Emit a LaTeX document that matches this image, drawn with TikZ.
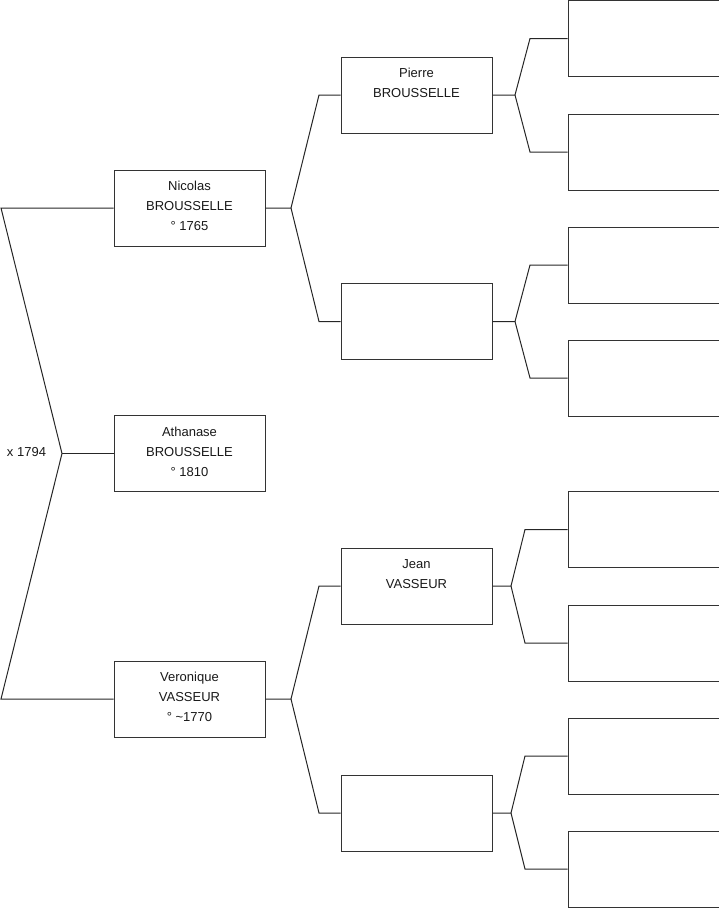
\documentclass[tikz,border=0pt]{standalone}
\usepackage{fontspec}
\setmainfont{Liberation Sans}
\begin{document}
\begin{tikzpicture}[x=1pt,y=-1pt,
  person/.style={draw=black!80,line width=1pt,fill=white,minimum width=151pt,minimum height=76pt,
    inner sep=0pt},
  txt/.style={inner sep=0pt,align=center,font=\fontsize{13}{20}\selectfont,text=black!90},
  link/.style={draw=black!85,line width=1pt}]
\useasboundingbox (0,0) rectangle (719,908);
% column 1
\node[person] (nic) at (189.5,208) {};
\node[person] (ath) at (189.5,453.5) {};
\node[person] (ver) at (189.5,699) {};
\node[txt] (nict) at ([yshift=2pt]nic.center) {Nicolas\\BROUSSELLE\\° 1765};
\node[txt] (atht) at ([yshift=2pt]ath.center) {Athanase\\BROUSSELLE\\° 1810};
\node[txt] (vert) at ([yshift=2pt]ver.center) {Veronique\\VASSEUR\\° \textasciitilde1770};
% column 2
\node[person] (pie) at (416.5,95) {};
\node[person] (b2) at (416.5,321.5) {};
\node[person] (jea) at (416.5,586) {};
\node[person] (b4) at (416.5,813) {};
\node[txt] (piet) at ([yshift=2pt]pie.center) {Pierre\\BROUSSELLE\\\mbox{}};
\node[txt] (jeat) at ([yshift=2pt]jea.center) {Jean\\VASSEUR\\\mbox{}};
% column 3
\node[person] (c1) at (643.5,38.5) {};
\node[person] (c2) at (643.5,152) {};
\node[person] (c3) at (643.5,265) {};
\node[person] (c4) at (643.5,378) {};
\node[person] (c5) at (643.5,529.5) {};
\node[person] (c6) at (643.5,643) {};
\node[person] (c7) at (643.5,756) {};
\node[person] (c8) at (643.5,869) {};
% root fork
\coordinate (rt) at (1,208);
\coordinate (ra) at (62,453.5);
\coordinate (rb) at (1,699);
\draw[link] (nic.west) -- (rt) -- (ra) -- (rb) -- (ver.west);
\draw[link] (ra) -- (ath.west);
\node[font=\fontsize{13}{15}\selectfont,text=black!90] (mar) at (26.5,452) {x 1794};
% column 1 -> column 2
\coordinate (na) at (291,208);
\coordinate (nu) at (319,95);
\coordinate (nd) at (319,321.5);
\draw[link] (nic.east) -- (na) -- (nu) -- (pie.west);
\draw[link] (na) -- (nd) -- (b2.west);
\coordinate (va) at (291,699);
\coordinate (vu) at (319,586);
\coordinate (vd) at (319,813);
\draw[link] (ver.east) -- (va) -- (vu) -- (jea.west);
\draw[link] (va) -- (vd) -- (b4.west);
% column 2 -> column 3
\coordinate (pa) at (515,95);
\coordinate (pu) at (530,38.5);
\coordinate (pd) at (530,152);
\draw[link] (pie.east) -- (pa) -- (pu) -- (c1.west);
\draw[link] (pa) -- (pd) -- (c2.west);
\coordinate (qa) at (515,321.5);
\coordinate (qu) at (530,265);
\coordinate (qd) at (530,378);
\draw[link] (b2.east) -- (qa) -- (qu) -- (c3.west);
\draw[link] (qa) -- (qd) -- (c4.west);
\coordinate (ja) at (511,586);
\coordinate (ju) at (525,529.5);
\coordinate (jd) at (525,643);
\draw[link] (jea.east) -- (ja) -- (ju) -- (c5.west);
\draw[link] (ja) -- (jd) -- (c6.west);
\coordinate (ka) at (511,813);
\coordinate (ku) at (525,756);
\coordinate (kd) at (525,869);
\draw[link] (b4.east) -- (ka) -- (ku) -- (c7.west);
\draw[link] (ka) -- (kd) -- (c8.west);
\end{tikzpicture}
\end{document}
